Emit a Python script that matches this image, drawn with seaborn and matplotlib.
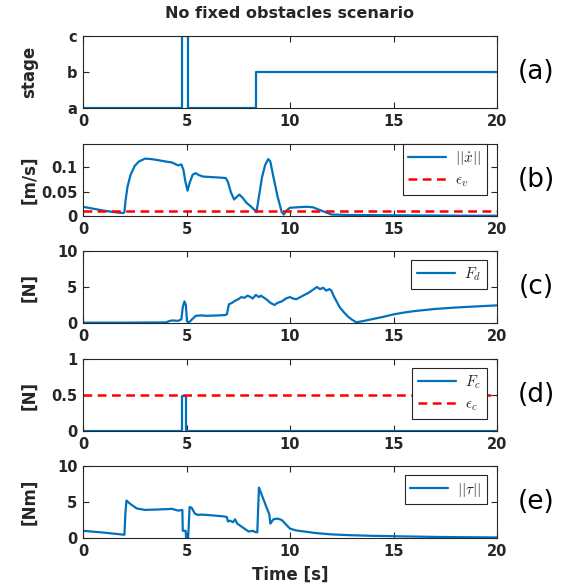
import numpy as np
import pandas as pd
import matplotlib
matplotlib.use("Agg")
import matplotlib.pyplot as plt
import seaborn as sns

# ---- data ----
stage_t = [0, 4.76, 5.08, 8.37, 20]
stage_v = [0, 2, 0, 1, 1]

vel_t = [0, 0.5, 1.0, 1.5, 1.95, 2.0, 2.05, 2.15, 2.3, 2.5, 2.7, 3.0, 3.3, 3.6, 4.0, 4.3,
         4.5, 4.6, 4.75, 4.85, 4.95, 5.05, 5.15, 5.3, 5.45, 5.6, 5.8, 6.2, 6.6, 6.9, 7.0,
         7.15, 7.3, 7.4, 7.55, 7.7, 7.9, 8.1, 8.3, 8.38, 8.5, 8.65, 8.8, 8.95, 9.05, 9.2,
         9.4, 9.6, 9.7, 9.85, 10.0, 10.4, 10.8, 11.1, 11.4, 11.7, 12.0, 12.5, 13, 14, 15,
         16, 17, 18, 19, 20]
vel_v = [0.019, 0.015, 0.011, 0.008, 0.006, 0.008, 0.03, 0.06, 0.085, 0.103, 0.112, 0.118,
         0.117, 0.115, 0.112, 0.110, 0.106, 0.104, 0.106, 0.095, 0.07, 0.052, 0.068, 0.085,
         0.088, 0.084, 0.081, 0.080, 0.079, 0.078, 0.070, 0.048, 0.034, 0.038, 0.044, 0.038,
         0.027, 0.02, 0.012, 0.008, 0.04, 0.08, 0.105, 0.117, 0.112, 0.08, 0.04, 0.008,
         0.003, 0.012, 0.017, 0.018, 0.019, 0.018, 0.013, 0.008, 0.003, 0.0025, 0.002,
         0.0018, 0.0015, 0.0012, 0.001, 0.0008, 0.0006, 0.0005]
eps_v = 0.01

fd_t = [0, 2, 4.0, 4.2, 4.3, 4.6, 4.75, 4.82, 4.9, 4.97, 5.02, 5.08, 5.2, 5.3, 5.45, 5.7,
        6.0, 6.5, 6.85, 6.95, 7.05, 7.2, 7.35, 7.5, 7.65, 7.8, 7.95, 8.1, 8.2, 8.35, 8.5,
        8.6, 8.75, 8.9, 9.05, 9.25, 9.4, 9.6, 9.8, 10.0, 10.15, 10.3, 10.5, 10.7, 10.9,
        11.1, 11.3, 11.45, 11.6, 11.75, 11.9, 12.0, 12.1, 12.25, 12.4, 12.6, 12.8, 13.0,
        13.2, 13.5, 14, 14.5, 15, 15.5, 16, 17, 18, 19, 20]
fd_v = [0.05, 0.05, 0.08, 0.3, 0.35, 0.3, 0.5, 2.2, 3.0, 2.5, 0.3, 0.05, 0.3, 0.6, 1.0,
        1.05, 1.0, 1.05, 1.1, 1.2, 2.6, 2.8, 3.1, 3.3, 3.6, 3.5, 3.8, 3.6, 3.4, 3.9, 3.6,
        3.8, 3.5, 3.2, 2.8, 2.5, 2.8, 3.0, 3.4, 3.6, 3.4, 3.3, 3.6, 3.9, 4.2, 4.6, 5.0,
        4.7, 4.9, 4.5, 4.7, 4.5, 3.8, 3.0, 2.2, 1.5, 0.9, 0.45, 0.1, 0.25, 0.55, 0.85,
        1.2, 1.45, 1.65, 1.95, 2.15, 2.3, 2.45]

fc_t = [0, 4.78, 4.97, 20]
fc_v = [0, 0.48, 0, 0]
eps_c = 0.5

tau_t = [0, 1, 2.0, 2.05, 2.1, 2.3, 2.6, 3.0, 3.5, 4.0, 4.3, 4.6, 4.8, 4.82, 4.9, 4.96,
         4.98, 5.08, 5.15, 5.25, 5.4, 5.55, 5.7, 6.0, 6.4, 6.8, 6.95, 7.0, 7.1, 7.25, 7.35,
         7.45, 7.55, 7.7, 7.85, 8.0, 8.2, 8.35, 8.42, 8.5, 8.7, 8.9, 9.0, 9.05, 9.2, 9.4,
         9.6, 9.8, 10.0, 10.3, 10.7, 11.2, 12, 13, 14, 15, 16, 17, 18, 19, 20]
tau_v = [1.0, 0.75, 0.45, 3.5, 5.2, 4.7, 4.1, 3.9, 3.95, 4.0, 4.05, 3.8, 3.9, 1.0, 1.0,
         1.0, 0.0, 0.0, 4.3, 4.2, 3.4, 3.2, 3.25, 3.2, 3.1, 3.0, 2.9, 2.3, 2.4, 2.2, 2.6,
         2.0, 1.8, 1.5, 1.2, 0.9, 1.0, 0.8, 0.8, 7.0, 5.5, 4.0, 3.3, 2.0, 2.6, 2.7, 2.5,
         1.9, 1.3, 1.05, 0.9, 0.7, 0.5, 0.38, 0.3, 0.25, 0.2, 0.15, 0.12, 0.1, 0.08]

t_range = [0, 20]
panel_tags = ["(a)", "(b)", "(c)", "(d)", "(e)"]

# ---- style ----
sns.set_style("ticks")
plt.rcParams["font.family"] = ["DejaVu Sans"]
plt.rcParams.update({
    "xtick.direction": "in", "ytick.direction": "in",
    "xtick.top": True, "ytick.right": True,
    "xtick.major.size": 4, "ytick.major.size": 4,
    "axes.edgecolor": "#262626", "axes.linewidth": 0.8,
    "mathtext.fontset": "cm",
})
blue = "#0072BD"
red = "#FF0000"
dash = (0, (3.5, 2.2))

fig = plt.figure(figsize=(5.69, 5.88), dpi=100)
left, width, h = 83 / 569, 414 / 569, 72 / 588
bottoms = [108, 216, 323, 431, 538]
axs = [fig.add_axes([left, 1 - b / 588, width, h]) for b in bottoms]

# (a)
ax = axs[0]
sns.lineplot(x=stage_t, y=stage_v, ax=ax, color=blue, lw=1.6, sort=False,
             estimator=None, drawstyle="steps-post")
ax.set_ylim(0, 2)
ax.set_yticks([0, 1, 2])
ax.set_yticklabels(["a", "b", "c"])
ax.set_ylabel("stage")
ax.set_title("No fixed obstacles scenario", fontsize=11.5, fontweight="bold", pad=13)

# (b)
ax = axs[1]
sns.lineplot(x=vel_t, y=vel_v, ax=ax, color=blue, lw=1.6, sort=False, estimator=None,
             label=r"$||\dot{x}||$")
sns.lineplot(x=t_range, y=[eps_v, eps_v], ax=ax, color=red, lw=1.8, linestyle=dash,
             label=r"$\epsilon_v$")
ax.set_ylim(0, 0.148)
ax.set_yticks([0, 0.05, 0.1])
ax.set_yticklabels(["0", "0.05", "0.1"])
ax.set_ylabel("[m/s]")

# (c)
ax = axs[2]
sns.lineplot(x=fd_t, y=fd_v, ax=ax, color=blue, lw=1.6, sort=False, estimator=None,
             label=r"$F_d$")
ax.set_ylim(0, 10)
ax.set_yticks([0, 5, 10])
ax.set_ylabel("[N]")

# (d)
ax = axs[3]
sns.lineplot(x=fc_t, y=fc_v, ax=ax, color=blue, lw=1.6, sort=False, estimator=None,
             drawstyle="steps-post", label=r"$F_c$")
sns.lineplot(x=t_range, y=[eps_c, eps_c], ax=ax, color=red, lw=1.8, linestyle=dash,
             label=r"$\epsilon_c$")
ax.set_ylim(0, 1)
ax.set_yticks([0, 0.5, 1])
ax.set_yticklabels(["0", "0.5", "1"])
ax.set_ylabel("[N]")

# (e)
ax = axs[4]
sns.lineplot(x=tau_t, y=tau_v, ax=ax, color=blue, lw=1.6, sort=False, estimator=None,
             label=r"$||\tau||$")
ax.set_ylim(0, 10)
ax.set_yticks([0, 5, 10])
ax.set_ylabel("[Nm]")
ax.set_xlabel("Time [s]", fontsize=12, fontweight="bold", labelpad=5)

leg_anchor = {1: (0.975, 1.0), 2: (0.975, 0.87), 3: (0.975, 0.87), 4: (0.975, 0.87)}

for i, ax in enumerate(axs):
    ax.set_xlim(0, 20)
    ax.set_xticks([0, 5, 10, 15, 20])
    ax.tick_params(labelsize=10.5, colors="#262626", pad=4)
    for lab in ax.get_xticklabels() + ax.get_yticklabels():
        lab.set_fontweight("bold")
    ax.yaxis.label.set_fontsize(12)
    ax.yaxis.label.set_fontweight("bold")
    ax.yaxis.set_label_coords(-0.108, 0.5)
    if i != 4:
        ax.set_xlabel("")
    if i in leg_anchor:
        leg = ax.legend(loc="upper right", bbox_to_anchor=leg_anchor[i], fontsize=11,
                        frameon=True, fancybox=False, framealpha=1, edgecolor="#262626",
                        handlelength=2.5, borderaxespad=0, borderpad=0.35,
                        labelspacing=0.35, handletextpad=0.6)
        leg.get_frame().set_linewidth(0.8)
    else:
        if ax.get_legend():
            ax.get_legend().remove()
    y_mid = 1 - (bottoms[i] - 36) / 588
    fig.text(536 / 569, y_mid, panel_tags[i], fontsize=19, ha="center", va="center",
             color="black")

fig.savefig("out.png", dpi=100)
